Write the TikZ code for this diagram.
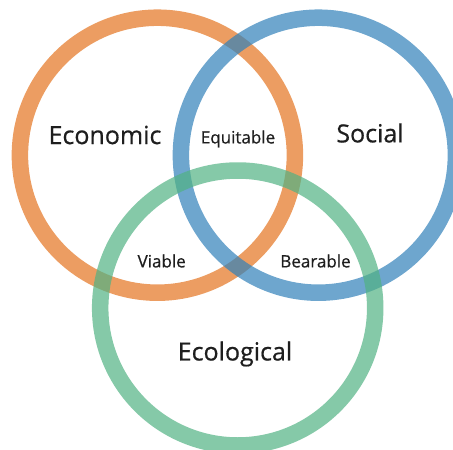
\documentclass[tikz,border=0pt]{standalone}
\usepackage{fontspec}
\setmainfont{Open Sans}[FakeBold=0.6]
\definecolor{ringorange}{RGB}{228,116,32}
\definecolor{ringblue}{RGB}{48,128,185}
\definecolor{ringgreen}{RGB}{81,178,131}
\definecolor{labelink}{RGB}{30,30,30}
\tikzset{
  ring/.style={line width=16.5pt, draw opacity=0.7},
  big/.style={text=labelink, font=\fontsize{25}{30}\selectfont},
  small/.style={text=labelink, font=\fontsize{17}{20}\selectfont}
}
\begin{document}
\begin{tikzpicture}[x=1pt, y=-1pt]
  \useasboundingbox (0,0) rectangle (453,450);
  \clip (0,0) rectangle (453,450);
  \coordinate (Ec) at (157.4,155.2);
  \coordinate (So) at (318.4,155.2);
  \coordinate (Ev) at (237.7,308);
  \draw[ring, ringorange] (Ec) circle (137.5);
  \draw[ring, ringblue]   (So) circle (137.5);
  \draw[ring, ringgreen]  (Ev) circle (137.5);
  \node (eco) at (105,135) [big] {Economic};
  \node (soc) at (370,133) [big] {Social};
  \node (env) at (235,354) [big] {Ecological};
  \node (equ) at (238,139) [small] {Equitable};
  \node (via) at (161.7,261) [small] {Viable};
  \node (bea) at (315.5,261) [small] {Bearable};
\end{tikzpicture}
\end{document}
